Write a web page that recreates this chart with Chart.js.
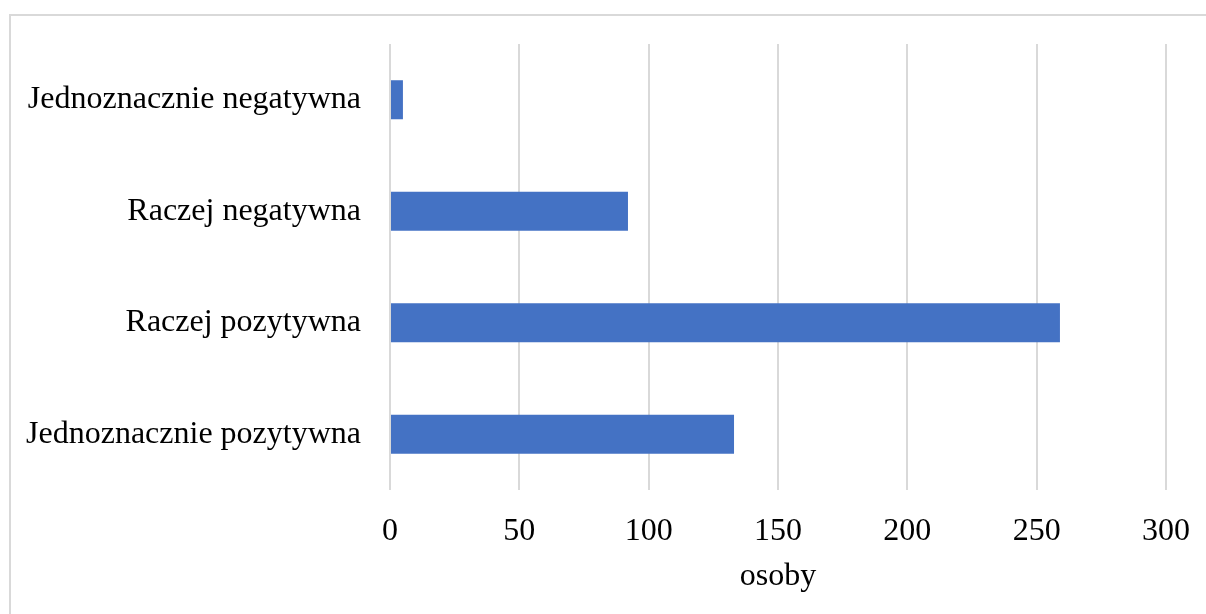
<!DOCTYPE html>
<html>
<head>
<meta charset="utf-8">
<script src="https://cdn.jsdelivr.net/npm/chart.js@4/dist/chart.umd.min.js"></script>
<style>
  html, body { margin: 0; padding: 0; background: #fff; overflow: hidden; }
  .frame {
    position: absolute; left: 9px; top: 14px; width: 1300px; height: 700px;
    border: 2px solid #d9d9d9; box-sizing: border-box;
  }
  .wrap { position: absolute; left: 0; top: 0; width: 1206px; height: 614px; }
</style>
</head>
<body>
<div class="frame"></div>
<div class="wrap"><canvas id="chart" width="1206" height="614"></canvas></div>
<script>
// data, top to bottom as drawn
const categories = [
  "Jednoznacznie negatywna",
  "Raczej negatywna",
  "Raczej pozytywna",
  "Jednoznacznie pozytywna",
];
const osoby = [5, 92, 259, 133];
const xTicks = [0, 50, 100, 150, 200, 250, 300];
const xTitle = "osoby";

const FONT = "'Liberation Serif', 'Times New Roman', serif";
const SIZE = 32;

new Chart(document.getElementById("chart"), {
  type: "bar",
  data: {
    labels: categories,
    datasets: [{
      data: osoby,
      backgroundColor: "#4472c4",
      categoryPercentage: 1,
      barPercentage: 0.35,
    }],
  },
  options: {
    indexAxis: "y",
    responsive: false,
    animation: false,
    layout: { padding: { left: 0, top: 44, right: 40, bottom: 0 } },
    plugins: { legend: { display: false }, tooltip: { enabled: false } },
    scales: {
      y: {
        grid: { display: false, drawTicks: false },
        border: { display: false },
        ticks: { color: "#000", padding: 29, font: { family: FONT, size: SIZE } },
        afterFit(scale) {
          scale.width = 390;
          scale.paddingTop = 0;
          scale.paddingBottom = 0;
        },
      },
      x: {
        min: 0,
        max: 300,
        afterBuildTicks(scale) { scale.ticks = xTicks.map((v) => ({ value: v })); },
        grid: { color: "#d9d9d9", lineWidth: 2, drawTicks: false },
        border: { display: false },
        ticks: { color: "#000", padding: 22, font: { family: FONT, size: SIZE } },
        title: {
          display: true,
          text: xTitle,
          color: "#000",
          padding: { top: 8, bottom: 18 },
          font: { family: FONT, size: SIZE },
        },
        afterFit(scale) {
          scale.height = 124;
          scale.paddingLeft = 0;
          scale.paddingRight = 0;
        },
      },
    },
  },
});
</script>
</body>
</html>
